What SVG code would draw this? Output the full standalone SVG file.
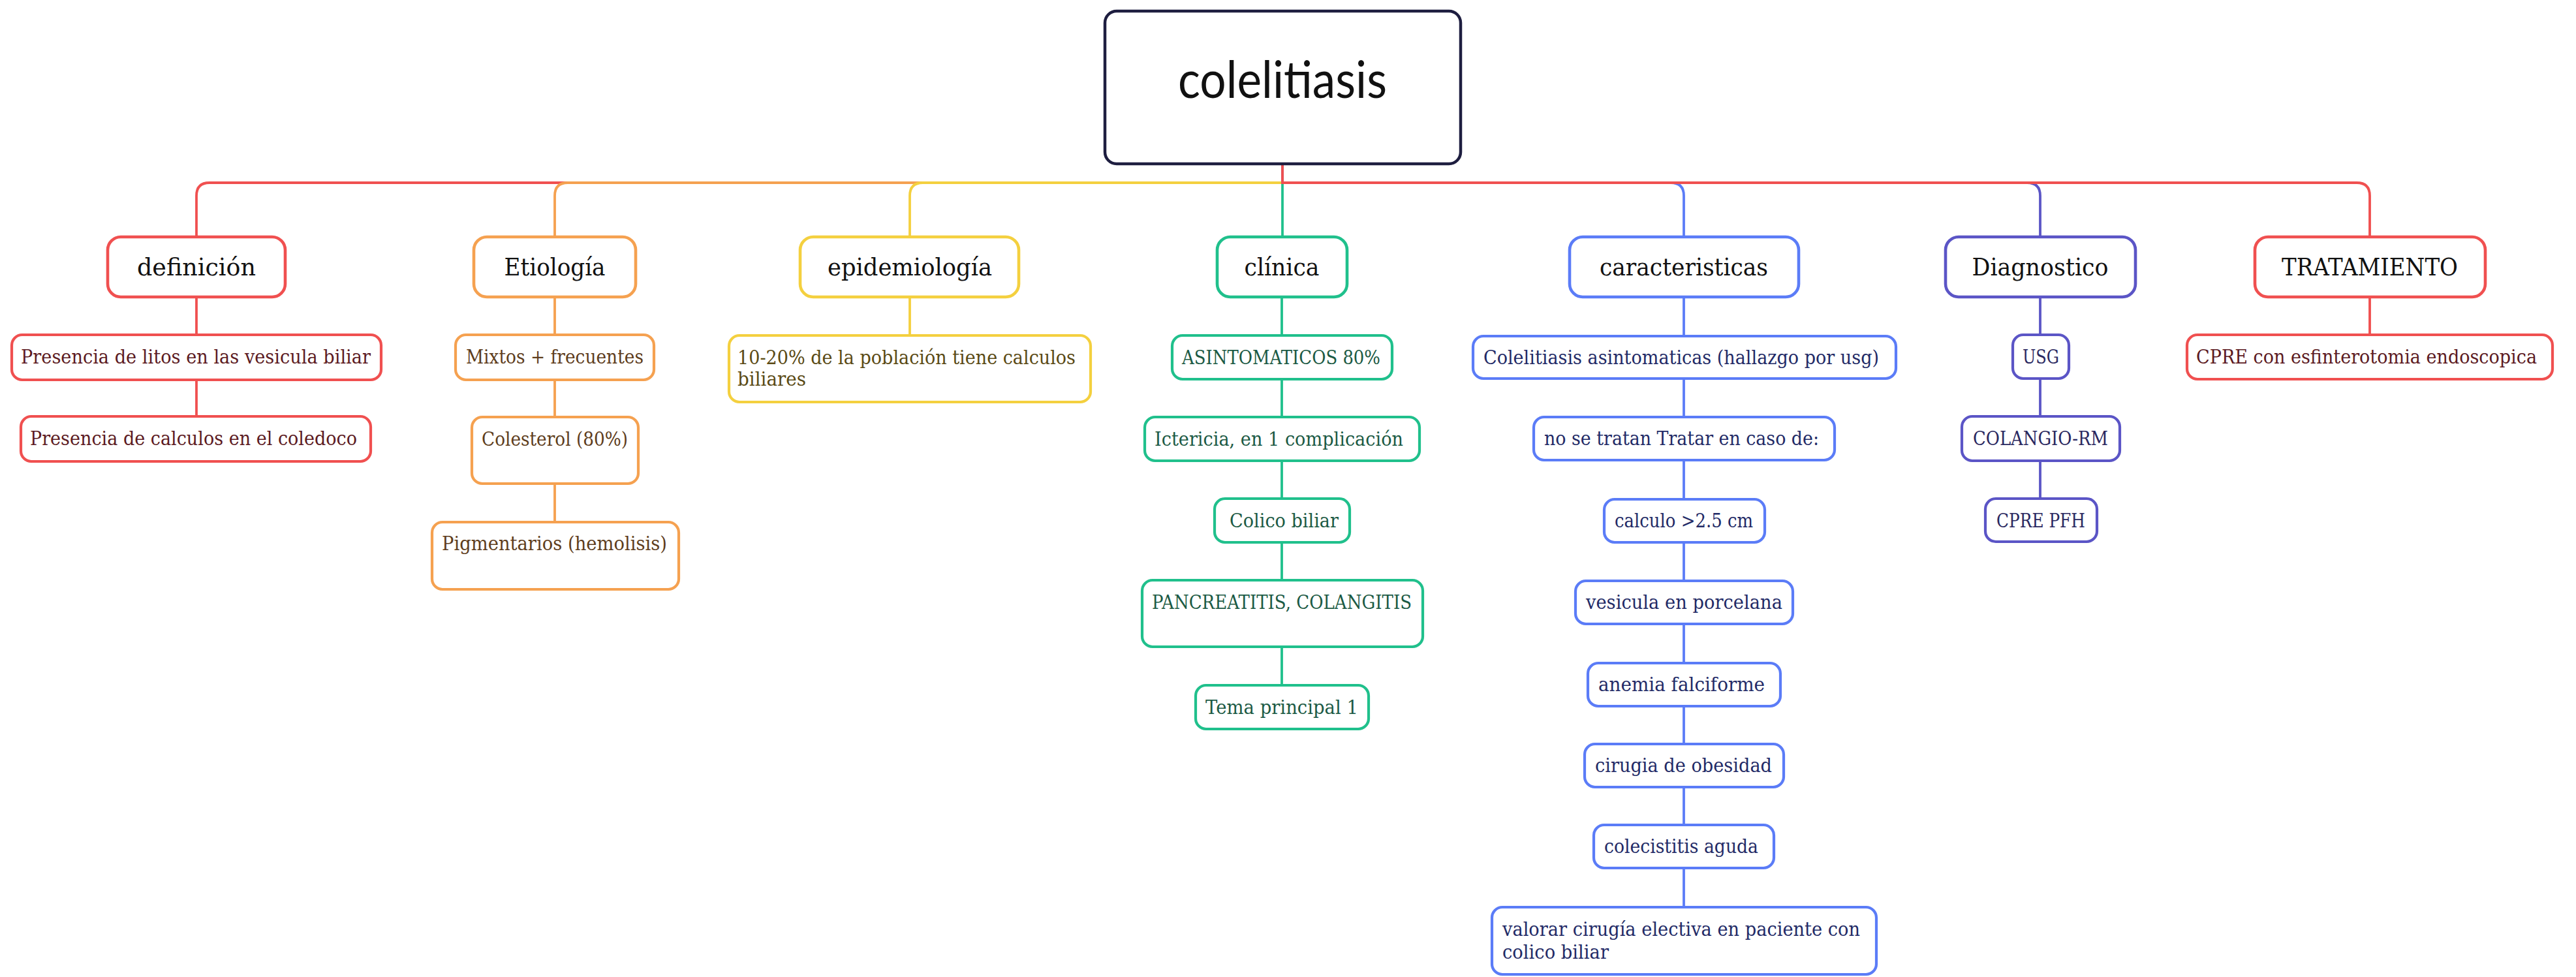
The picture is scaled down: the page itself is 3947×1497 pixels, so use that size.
<svg xmlns="http://www.w3.org/2000/svg" width="3947" height="1497" viewBox="0 0 3947 1497">
<style>
.bg{fill:#ffffff}
.line{fill:none;stroke-width:3.8;stroke-linecap:round}
.box{fill:#ffffff;stroke-width:4.2}
.l1{fill:#ffffff;stroke-width:4.6}
.t1{font-family:"DejaVu Serif","Liberation Serif",serif;font-size:38px;fill:#111111;text-anchor:middle}
.t2{font-family:"DejaVu Serif","Liberation Serif",serif;font-size:29px}
.red{stroke:#f05050}.tred{fill:#5c1a22}
.org{stroke:#f5a150}.torg{fill:#5e3d1c}
.yel{stroke:#f4d03f}.tyel{fill:#5a4a14}
.grn{stroke:#20c08c}.tgrn{fill:#1b5a44}
.blu{stroke:#5b7cf7}.tblu{fill:#222a66}
.pur{stroke:#5b55c6}.tpur{fill:#2a2860}
</style>
<rect class="bg" x="0" y="0" width="3947" height="1497"/>
<g id="connectors">
  <path class="line red" d="M1965 251 V280 H321 Q301 280 301 300 V363"/>
  <path class="line org" d="M1965 251 V280 H870 Q850 280 850 300 V363"/>
  <path class="line yel" d="M1965 251 V280 H1414 Q1394 280 1394 300 V363"/>
  <path class="line grn" d="M1965 251 V363"/>
  <path class="line blu" d="M1965 251 V280 H2560 Q2580 280 2580 300 V363"/>
  <path class="line pur" d="M1965 251 V280 H3106 Q3126 280 3126 300 V363"/>
  <path class="line red" d="M1965 251 V280 H3611 Q3631 280 3631 300 V363"/>
  <path class="line red" d="M301 455 V513 M301 582 V638"/>
  <path class="line org" d="M850 455 V513 M850 582 V639 M850 741 V800"/>
  <path class="line yel" d="M1394 455 V514"/>
  <path class="line grn" d="M1964 455 V514 M1964 581 V639 M1964 706 V764 M1964 831 V889 M1964 991 V1050"/>
  <path class="line blu" d="M2580 455 V515 M2580 580 V639 M2580 705 V765 M2580 831 V890 M2580 956 V1016 M2580 1082 V1140 M2580 1206 V1264 M2580 1330 V1390"/>
  <path class="line pur" d="M3126 455 V513 M3126 580 V638 M3126 706 V764"/>
  <path class="line red" d="M3631 455 V513"/>
</g>
<g id="root">
  <rect x="1693" y="17" width="545" height="234" rx="18" fill="#ffffff" stroke="#1e1e40" stroke-width="4.5"/>
  <text x="1965" y="150" text-anchor="middle" font-family="Lato,'Open Sans','Liberation Sans',sans-serif" font-weight="400" font-size="80" fill="#111111" textLength="320" lengthAdjust="spacingAndGlyphs">colelitiasis</text>
</g>
<g id="definicion">
  <rect class="l1 red" x="165" y="363" width="272" height="92" rx="20"/>
  <text class="t1" x="301" y="422" textLength="182" lengthAdjust="spacingAndGlyphs">definición</text>
</g>
<g id="etiologia">
  <rect class="l1 org" x="726" y="363" width="248" height="92" rx="20"/>
  <text class="t1" x="850" y="422" textLength="155" lengthAdjust="spacingAndGlyphs">Etiología</text>
</g>
<g id="epidemiologia">
  <rect class="l1 yel" x="1226" y="363" width="335" height="92" rx="20"/>
  <text class="t1" x="1394" y="422" textLength="252" lengthAdjust="spacingAndGlyphs">epidemiología</text>
</g>
<g id="clinica">
  <rect class="l1 grn" x="1865" y="363" width="199" height="92" rx="20"/>
  <text class="t1" x="1964" y="422" textLength="115" lengthAdjust="spacingAndGlyphs">clínica</text>
</g>
<g id="caracteristicas">
  <rect class="l1 blu" x="2405" y="363" width="351" height="92" rx="20"/>
  <text class="t1" x="2580" y="422" textLength="258" lengthAdjust="spacingAndGlyphs">caracteristicas</text>
</g>
<g id="diagnostico">
  <rect class="l1 pur" x="2981" y="363" width="291" height="92" rx="20"/>
  <text class="t1" x="3126" y="422" textLength="209" lengthAdjust="spacingAndGlyphs">Diagnostico</text>
</g>
<g id="tratamiento">
  <rect class="l1 red" x="3455" y="363" width="353" height="92" rx="20"/>
  <text class="t1" x="3631" y="422" textLength="270" lengthAdjust="spacingAndGlyphs">TRATAMIENTO</text>
</g>
<g id="def-1">
  <rect class="box red" x="18" y="513" width="566" height="69" rx="16"/>
  <text class="t2 tred" x="32" y="557" textLength="536" lengthAdjust="spacingAndGlyphs">Presencia de litos en las vesicula biliar</text>
</g>
<g id="def-2">
  <rect class="box red" x="32" y="638" width="536" height="69" rx="16"/>
  <text class="t2 tred" x="46" y="682" textLength="501" lengthAdjust="spacingAndGlyphs">Presencia de calculos en el coledoco</text>
</g>
<g id="eti-1">
  <rect class="box org" x="698" y="513" width="304" height="69" rx="16"/>
  <text class="t2 torg" x="714" y="557" textLength="272" lengthAdjust="spacingAndGlyphs">Mixtos + frecuentes</text>
</g>
<g id="eti-2">
  <rect class="box org" x="723" y="639" width="255" height="102" rx="16"/>
  <text class="t2 torg" x="738" y="683" textLength="224" lengthAdjust="spacingAndGlyphs">Colesterol (80%)</text>
</g>
<g id="eti-3">
  <rect class="box org" x="662" y="800" width="378" height="103" rx="16"/>
  <text class="t2 torg" x="677" y="843" textLength="345" lengthAdjust="spacingAndGlyphs">Pigmentarios (hemolisis)</text>
</g>
<g id="epi-1">
  <rect class="box yel" x="1117" y="514" width="554" height="102" rx="16"/>
  <text class="t2 tyel" x="1130" y="558" textLength="518" lengthAdjust="spacingAndGlyphs">10-20% de la población tiene calculos</text>
  <text class="t2 tyel" x="1130" y="591" textLength="105" lengthAdjust="spacingAndGlyphs">biliares</text>
</g>
<g id="cli-1">
  <rect class="box grn" x="1796" y="514" width="337" height="67" rx="16"/>
  <text class="t2 tgrn" x="1811" y="558" textLength="304" lengthAdjust="spacingAndGlyphs">ASINTOMATICOS 80%</text>
</g>
<g id="cli-2">
  <rect class="box grn" x="1754" y="639" width="421" height="67" rx="16"/>
  <text class="t2 tgrn" x="1769" y="683" textLength="381" lengthAdjust="spacingAndGlyphs">Ictericia, en 1 complicación</text>
</g>
<g id="cli-3">
  <rect class="box grn" x="1861" y="764" width="207" height="67" rx="16"/>
  <text class="t2 tgrn" x="1884" y="808" textLength="167" lengthAdjust="spacingAndGlyphs">Colico biliar</text>
</g>
<g id="cli-4">
  <rect class="box grn" x="1750" y="889" width="430" height="102" rx="16"/>
  <text class="t2 tgrn" x="1765" y="933" textLength="398" lengthAdjust="spacingAndGlyphs">PANCREATITIS, COLANGITIS</text>
</g>
<g id="cli-5">
  <rect class="box grn" x="1832" y="1050" width="265" height="67" rx="16"/>
  <text class="t2 tgrn" x="1847" y="1094" textLength="234" lengthAdjust="spacingAndGlyphs">Tema principal 1</text>
</g>
<g id="car-1">
  <rect class="box blu" x="2257" y="515" width="648" height="65" rx="16"/>
  <text class="t2 tblu" x="2273" y="558" textLength="606" lengthAdjust="spacingAndGlyphs">Colelitiasis asintomaticas (hallazgo por usg)</text>
</g>
<g id="car-2">
  <rect class="box blu" x="2350" y="639" width="461" height="66" rx="16"/>
  <text class="t2 tblu" x="2366" y="682" textLength="421" lengthAdjust="spacingAndGlyphs">no se tratan Tratar en caso de:</text>
</g>
<g id="car-3">
  <rect class="box blu" x="2458" y="765" width="246" height="66" rx="16"/>
  <text class="t2 tblu" x="2474" y="808" textLength="212" lengthAdjust="spacingAndGlyphs">calculo &gt;2.5 cm</text>
</g>
<g id="car-4">
  <rect class="box blu" x="2414" y="890" width="333" height="66" rx="16"/>
  <text class="t2 tblu" x="2430" y="933" textLength="301" lengthAdjust="spacingAndGlyphs">vesicula en porcelana</text>
</g>
<g id="car-5">
  <rect class="box blu" x="2433" y="1016" width="295" height="66" rx="16"/>
  <text class="t2 tblu" x="2449" y="1059" textLength="255" lengthAdjust="spacingAndGlyphs">anemia falciforme</text>
</g>
<g id="car-6">
  <rect class="box blu" x="2428" y="1140" width="305" height="66" rx="16"/>
  <text class="t2 tblu" x="2444" y="1183" textLength="271" lengthAdjust="spacingAndGlyphs">cirugia de obesidad</text>
</g>
<g id="car-7">
  <rect class="box blu" x="2442" y="1264" width="276" height="66" rx="16"/>
  <text class="t2 tblu" x="2458" y="1307" textLength="236" lengthAdjust="spacingAndGlyphs">colecistitis aguda</text>
</g>
<g id="car-8">
  <rect class="box blu" x="2286" y="1390" width="589" height="103" rx="16"/>
  <text class="t2 tblu" x="2302" y="1434" textLength="548" lengthAdjust="spacingAndGlyphs">valorar cirugía electiva en paciente con</text>
  <text class="t2 tblu" x="2302" y="1469" textLength="163" lengthAdjust="spacingAndGlyphs">colico biliar</text>
</g>
<g id="dia-1">
  <rect class="box pur" x="3084" y="513" width="86" height="67" rx="16"/>
  <text class="t2 tpur" x="3099" y="557" textLength="56" lengthAdjust="spacingAndGlyphs">USG</text>
</g>
<g id="dia-2">
  <rect class="box pur" x="3006" y="638" width="242" height="68" rx="16"/>
  <text class="t2 tpur" x="3023" y="682" textLength="207" lengthAdjust="spacingAndGlyphs">COLANGIO-RM</text>
</g>
<g id="dia-3">
  <rect class="box pur" x="3042" y="764" width="171" height="66" rx="16"/>
  <text class="t2 tpur" x="3059" y="808" textLength="136" lengthAdjust="spacingAndGlyphs">CPRE PFH</text>
</g>
<g id="tra-1">
  <rect class="box red" x="3351" y="513" width="560" height="68" rx="16"/>
  <text class="t2 tred" x="3365" y="557" textLength="522" lengthAdjust="spacingAndGlyphs">CPRE con esfinterotomia endoscopica</text>
</g>
</svg>
